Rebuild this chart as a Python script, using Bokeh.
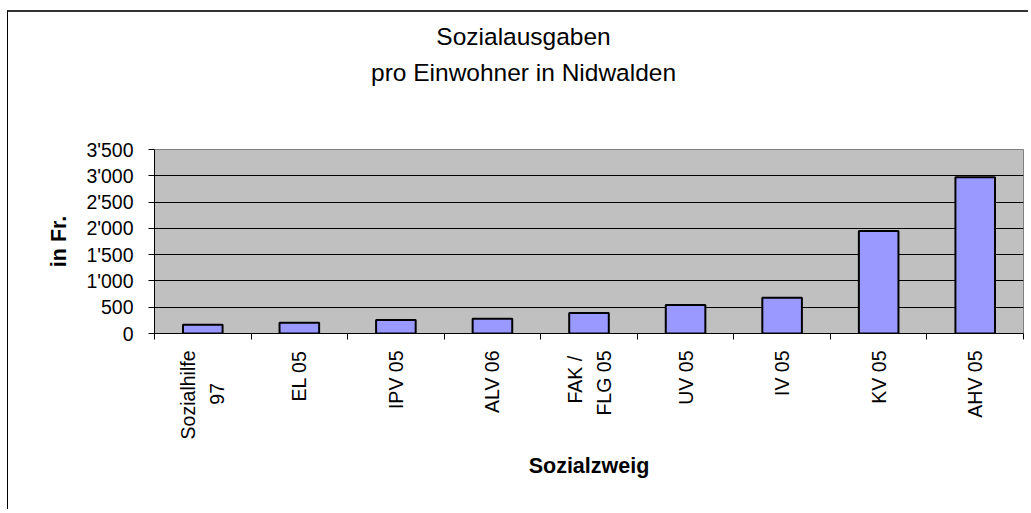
import math
from bokeh.plotting import figure
from bokeh.layouts import column
from bokeh.models import Range1d, FixedTicker, ColumnDataSource, Title
from bokeh.embed import file_html
from bokeh.resources import INLINE

# ---- data ----
categories = ["Sozialhilfe\n97", "EL 05", "IPV 05", "ALV 06", "FAK /\nFLG 05",
              "UV 05", "IV 05", "KV 05", "AHV 05"]
values = [165, 205, 255, 280, 390, 540, 680, 1950, 2970]
y_ticks = [0, 500, 1000, 1500, 2000, 2500, 3000, 3500]
y_tick_labels = ["0", "500", "1'000", "1'500", "2'000", "2'500", "3'000", "3'500"]
title_lines = ["Sozialausgaben", "pro Einwohner in Nidwalden"]
x_title = "Sozialzweig"
y_title = "in Fr."

FONT = "Liberation Sans"
XLAB_PX = 19.5
TITLE_PX = 24.5
LINE_GAP_PX = 29  # distance between the two lines of a rotated label

# figure geometry (figure sits at page x=8, y=12 inside the bordered wrapper)
FIG_X, FIG_Y = 8, 12
W, H = 1020, 497
ML, MR, MT, MB = 146, 5, 137, 176
FRAME_L = FIG_X + ML          # 154
FRAME_T = FIG_Y + MT          # 149

n = len(categories)
xs = [i + 0.5 for i in range(n)]
frame_w = W - ML - MR
px_per_unit = frame_w / n

# approximate Arial/Liberation Sans advance widths (em)
_w = {"S": .667, "o": .556, "z": .5, "i": .222, "a": .556, "l": .222, "h": .556,
      "f": .278, "e": .556, "9": .556, "7": .556, "F": .611, "A": .667, "K": .667,
      " ": .278, "/": .278, "L": .556, "G": .778, "0": .556, "5": .556,
      "p": .556, "r": .333, "E": .667, "n": .556, "w": .722, "N": .722,
      "d": .556, "b": .556, "g": .556, "u": .556, "s": .5}


def text_w(s, size):
    return sum(_w.get(c, .556) for c in s) * size


# build tick positions / labels: multi-line labels become side-by-side ticks
tick_pos, tick_lab = [], []
d = (LINE_GAP_PX / 2) / px_per_unit
for x, cat in zip(xs, categories):
    lines = cat.split("\n")
    if len(lines) == 1:
        tick_pos.append(x)
        tick_lab.append(cat)
    else:
        wl = max(text_w(l, XLAB_PX) for l in lines)
        k = len(lines)
        for j, l in enumerate(lines):
            pad = int(round((wl - text_w(l, XLAB_PX)) / 2 / (0.278 * XLAB_PX)))
            tick_pos.append(x + (j - (k - 1) / 2) * 2 * d)
            tick_lab.append(l + "\u00a0" * pad)

p = figure(width=W, height=H, output_backend="svg", toolbar_location=None,
           x_range=Range1d(0, n), y_range=Range1d(0, 3500),
           min_border_left=ML, min_border_right=MR, min_border_top=MT,
           min_border_bottom=MB)
p.background_fill_color = "#C0C0C0"
p.border_fill_color = "white"
p.outline_line_color = "#808080"
p.outline_line_width = 1

src = ColumnDataSource(dict(x=xs, top=values))
p.vbar(x="x", top="top", width=0.41, bottom=0, source=src,
       fill_color="#9999FF", line_color="black", line_width=2)

# ---- titles: stacked panels above the frame (nearest first) ----
TITLE_CENTER_X = 523
BASELINES = [48, 82.3]
asc, desc = 0.905, 0.212
t_h = (asc + desc) * TITLE_PX
bottoms = [b + desc * TITLE_PX for b in BASELINES]
s_title = (bottoms[1] - t_h) - bottoms[0]          # gap shared by both panels
line2_panel_bottom = bottoms[1] + s_title / 2
SPACER_PX = 10
spacer_standoff = (FRAME_T - line2_panel_bottom) - (asc + desc) * SPACER_PX

spacer = Title(text=" ", text_font_size=f"{SPACER_PX}px", standoff=spacer_standoff,
               text_font=FONT)
p.add_layout(spacer, "above")
line2 = Title(text=title_lines[1])
p.add_layout(line2, "above")
p.title.text = title_lines[0]
for t, txt in [(p.title, title_lines[0]), (line2, title_lines[1])]:
    t.align = "left"
    t.vertical_align = "bottom"
    t.offset = TITLE_CENTER_X - text_w(txt, TITLE_PX) / 2 - FRAME_L
    t.standoff = s_title
    t.text_font = FONT
    t.text_font_size = f"{TITLE_PX}px"
    t.text_font_style = "normal"
    t.text_color = "black"

# grid
p.xgrid.grid_line_color = None
p.ygrid.grid_line_color = "black"
p.ygrid.grid_line_width = 1
p.ygrid.ticker = FixedTicker(ticks=y_ticks)

# y axis
ya = p.yaxis[0]
ya.ticker = FixedTicker(ticks=y_ticks)
ya.major_label_overrides = {t: l for t, l in zip(y_ticks, y_tick_labels)}
ya.major_label_text_font = FONT
ya.major_label_text_font_size = "19.5px"
ya.major_label_text_color = "black"
ya.major_tick_out = 6
ya.major_tick_in = 0
ya.major_tick_line_color = "black"
ya.minor_tick_line_color = None
ya.axis_line_color = "black"
ya.major_label_standoff = 15
ya.axis_label = y_title
ya.axis_label_text_font = FONT
ya.axis_label_text_font_style = "bold"
ya.axis_label_text_font_size = "21.5px"
ya.axis_label_text_color = "black"
ya.axis_label_standoff = 12

# x axis
xa = p.xaxis[0]
xa.ticker = FixedTicker(ticks=tick_pos, minor_ticks=list(range(n + 1)))
xa.major_label_overrides = {t: l for t, l in zip(tick_pos, tick_lab)}
xa.major_label_orientation = math.pi / 2
xa.major_label_text_font = FONT
xa.major_label_text_font_size = f"{XLAB_PX}px"
xa.major_label_text_color = "black"
xa.major_tick_line_color = None
xa.major_tick_out = 0
xa.major_tick_in = 0
xa.minor_tick_line_color = "black"
xa.minor_tick_out = 6
xa.minor_tick_in = 0
xa.axis_line_color = "black"
xa.major_label_standoff = 11
xa.axis_label = x_title
xa.axis_label_text_font = FONT
xa.axis_label_text_font_style = "bold"
xa.axis_label_text_font_size = "21.5px"
xa.axis_label_text_color = "black"
xa.axis_label_standoff = 12

layout = column(p, width=W + 1, height=H + 2, margin=(10, 0, 0, 7),
                styles={"border": "none",
                        "border-left": "1px solid black",
                        "border-top": "2px solid #333333",
                        "overflow": "visible"})

open("out.html", "w").write(file_html(layout, INLINE))
